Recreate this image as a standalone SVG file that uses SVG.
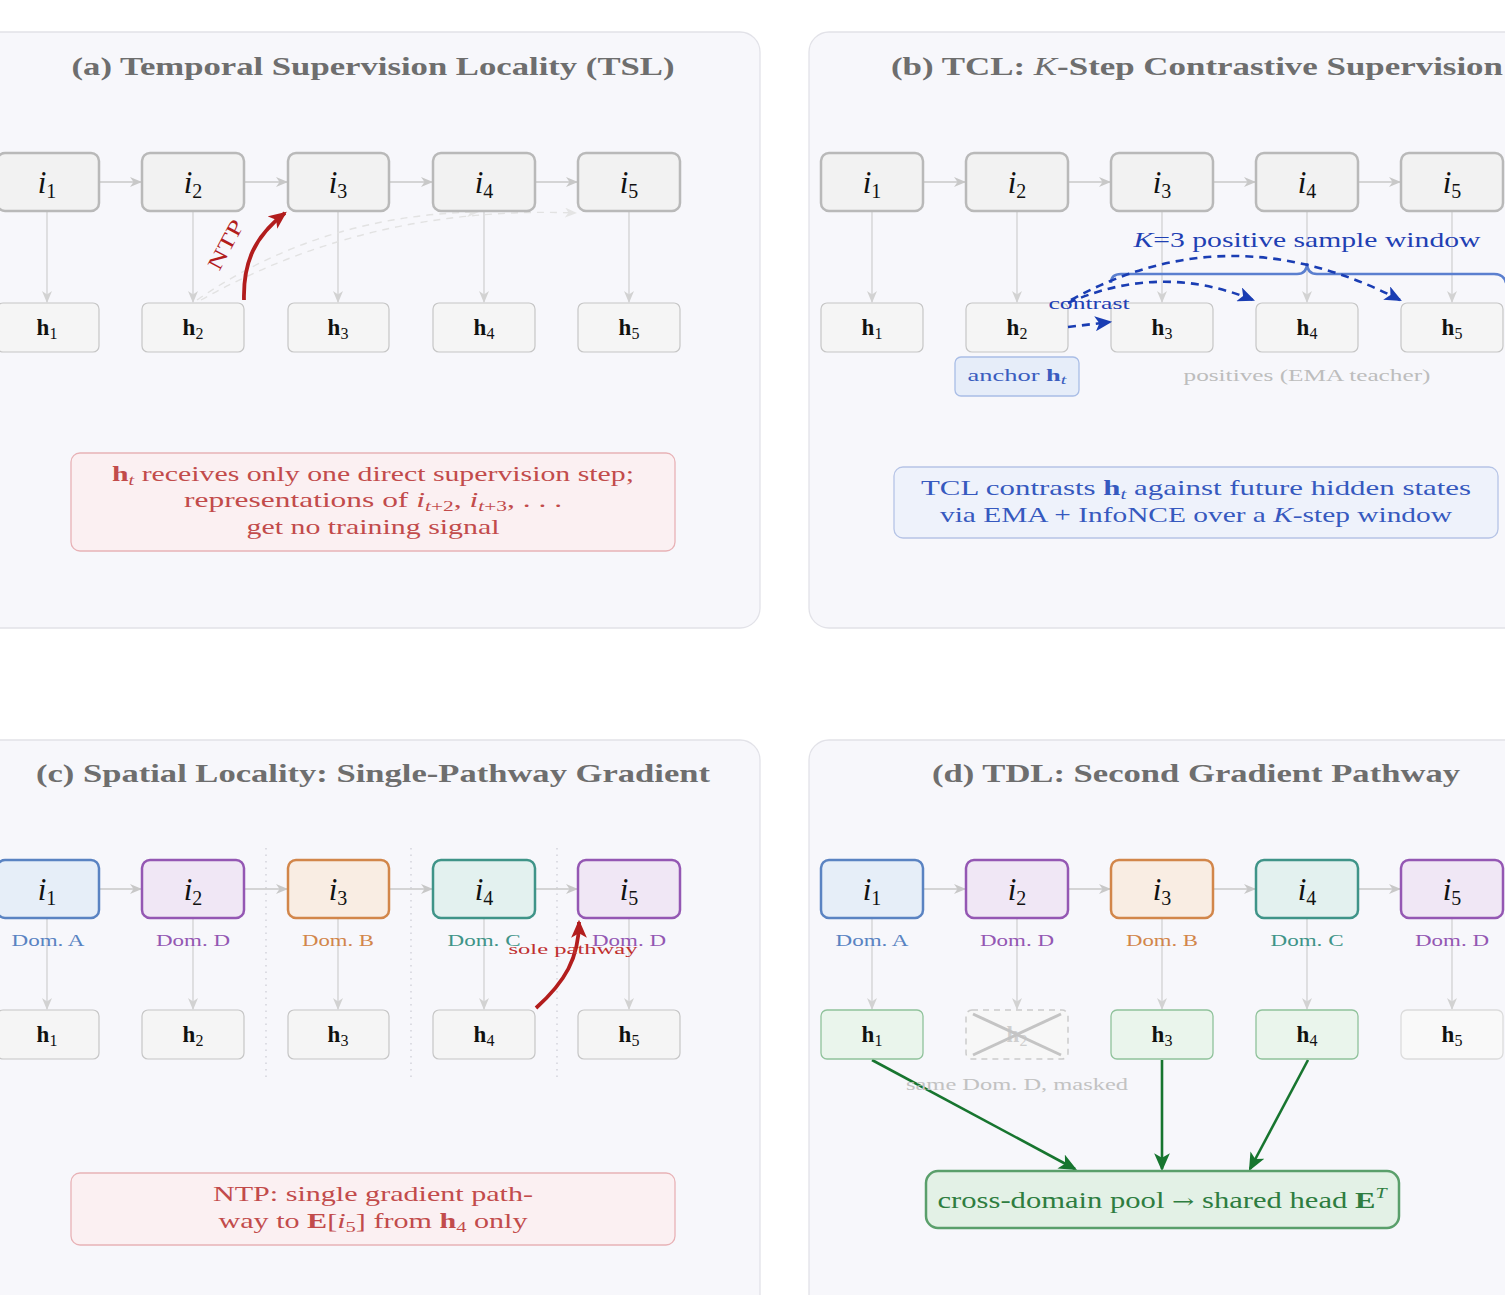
<svg xmlns="http://www.w3.org/2000/svg" width="1505" height="1295" viewBox="0 0 1505 1295">
<defs>
<style>
text{font-family:"Liberation Serif","DejaVu Serif",serif;}
.panel{fill:#f7f7fb;stroke:#e2e2e8;stroke-width:1.3;}
.title{font-size:26px;font-weight:bold;fill:#6e6e6e;text-anchor:middle;}
.inode{fill:#f2f2f2;stroke:#b9b9b9;stroke-width:2.5;}
.hnode{fill:#f5f5f5;stroke:#c6c6c6;stroke-width:1.2;}
.il{font-size:31px;text-anchor:middle;fill:#111;}
.hl{font-size:23px;text-anchor:middle;fill:#111;}
.harr{stroke:#c8c8c8;stroke-width:1.6;fill:none;}
.varr{stroke:#d2d2d2;stroke-width:1.3;fill:none;}
.dom{font-size:16px;text-anchor:middle;}
.sep{stroke:#cfcfd6;stroke-width:1.3;stroke-dasharray:1.5,5;}
.rednote{fill:#fbf0f2;stroke:#e8b2b6;stroke-width:1.3;}
.redtxt{font-size:22px;fill:#c24b4b;text-anchor:middle;}
.bluetxt{fill:#3659bf;text-anchor:middle;}
.blue{stroke:#1a3db3;stroke-width:2.6;fill:none;stroke-dasharray:8,6;}
.green{stroke:#17752f;stroke-width:2.6;fill:none;}
</style>
<marker id="ag" viewBox="0 0 12 10" refX="11" refY="5" markerWidth="12" markerHeight="10" markerUnits="userSpaceOnUse" orient="auto"><path d="M0,0 L12,5 L0,10 L3.5,5 z" fill="#c8c8c8"/></marker>
<marker id="agv" viewBox="0 0 12 10" refX="11" refY="5" markerWidth="12" markerHeight="10" markerUnits="userSpaceOnUse" orient="auto"><path d="M0,0 L12,5 L0,10 L3.5,5 z" fill="#d2d2d2"/></marker>
<marker id="agl" viewBox="0 0 12 10" refX="11" refY="5" markerWidth="12" markerHeight="10" markerUnits="userSpaceOnUse" orient="auto"><path d="M0,0 L12,5 L0,10 L3.5,5 z" fill="#e4e4e4"/></marker>
<marker id="ar" viewBox="0 0 16 14" refX="14" refY="7" markerWidth="18" markerHeight="16" markerUnits="userSpaceOnUse" orient="auto"><path d="M0,0 L16,7 L0,14 L4,7 z" fill="#b21d1d"/></marker>
<marker id="ab" viewBox="0 0 16 14" refX="14" refY="7" markerWidth="18" markerHeight="15" markerUnits="userSpaceOnUse" orient="auto"><path d="M0,0 L16,7 L0,14 L4,7 z" fill="#1a3db3"/></marker>
<marker id="agr" viewBox="0 0 16 14" refX="14" refY="7" markerWidth="18" markerHeight="16" markerUnits="userSpaceOnUse" orient="auto"><path d="M0,0 L16,7 L0,14 L4,7 z" fill="#17752f"/></marker>
</defs>
<rect width="1505" height="1295" fill="#ffffff"/>

<g id="panels">
<rect class="panel" x="-20" y="32" width="780" height="596" rx="20"/>
<rect class="panel" x="809" y="32" width="720" height="596" rx="20"/>
<rect class="panel" x="-20" y="740" width="780" height="600" rx="20"/>
<rect class="panel" x="809" y="740" width="720" height="600" rx="20"/>
</g>

<g id="titles">
<text class="title" x="373" y="75" textLength="603" lengthAdjust="spacingAndGlyphs">(a)  Temporal Supervision Locality (TSL)</text>
<text class="title" x="1197" y="75" textLength="612" lengthAdjust="spacingAndGlyphs">(b)  TCL: <tspan font-style="italic" font-weight="normal">K</tspan>-Step Contrastive Supervision</text>
<text class="title" x="373" y="782" textLength="674" lengthAdjust="spacingAndGlyphs">(c)  Spatial Locality: Single-Pathway Gradient</text>
<text class="title" x="1196" y="782" textLength="528" lengthAdjust="spacingAndGlyphs">(d)  TDL: Second Gradient Pathway</text>
</g>

<!-- ===== Panel (a) ===== -->
<g id="connectors-a">
<line class="harr" x1="99" y1="182" x2="141" y2="182" marker-end="url(#ag)"/>
<line class="harr" x1="244" y1="182" x2="287" y2="182" marker-end="url(#ag)"/>
<line class="harr" x1="389" y1="182" x2="432" y2="182" marker-end="url(#ag)"/>
<line class="harr" x1="535" y1="182" x2="577" y2="182" marker-end="url(#ag)"/>
<line class="varr" x1="47" y1="211" x2="47" y2="302" marker-end="url(#agv)"/>
<line class="varr" x1="193" y1="211" x2="193" y2="302" marker-end="url(#agv)"/>
<line class="varr" x1="338" y1="211" x2="338" y2="302" marker-end="url(#agv)"/>
<line class="varr" x1="484" y1="211" x2="484" y2="302" marker-end="url(#agv)"/>
<line class="varr" x1="629" y1="211" x2="629" y2="302" marker-end="url(#agv)"/>
<path d="M197,300 Q320,215 478,212" stroke="#e2e2e2" stroke-width="1.4" fill="none" stroke-dasharray="7,6" marker-end="url(#agl)"/>
<path d="M201,300 Q370,205 576,213" stroke="#e2e2e2" stroke-width="1.4" fill="none" stroke-dasharray="7,6" marker-end="url(#agl)"/>
<path d="M244,300 C243,262 255,236 285,213" stroke="#b21d1d" stroke-width="3.8" fill="none" marker-end="url(#ar)"/>
<text x="232" y="248" font-size="21" fill="#b21d1d" text-anchor="middle" transform="rotate(-62 232 248)" textLength="54" lengthAdjust="spacingAndGlyphs">NTP</text>
</g>
<g id="a-i1"><rect class="inode" x="-3" y="153" width="102" height="58" rx="8"/><text class="il" x="47" y="193"><tspan font-style="italic">i</tspan><tspan font-size="20" dy="5">1</tspan></text></g>
<g id="a-i2"><rect class="inode" x="142" y="153" width="102" height="58" rx="8"/><text class="il" x="193" y="193"><tspan font-style="italic">i</tspan><tspan font-size="20" dy="5">2</tspan></text></g>
<g id="a-i3"><rect class="inode" x="288" y="153" width="101" height="58" rx="8"/><text class="il" x="338" y="193"><tspan font-style="italic">i</tspan><tspan font-size="20" dy="5">3</tspan></text></g>
<g id="a-i4"><rect class="inode" x="433" y="153" width="102" height="58" rx="8"/><text class="il" x="484" y="193"><tspan font-style="italic">i</tspan><tspan font-size="20" dy="5">4</tspan></text></g>
<g id="a-i5"><rect class="inode" x="578" y="153" width="102" height="58" rx="8"/><text class="il" x="629" y="193"><tspan font-style="italic">i</tspan><tspan font-size="20" dy="5">5</tspan></text></g>
<g id="a-h1"><rect class="hnode" x="-3" y="303" width="102" height="49" rx="6"/><text class="hl" x="47" y="335"><tspan font-weight="bold">h</tspan><tspan font-size="16" dy="4">1</tspan></text></g>
<g id="a-h2"><rect class="hnode" x="142" y="303" width="102" height="49" rx="6"/><text class="hl" x="193" y="335"><tspan font-weight="bold">h</tspan><tspan font-size="16" dy="4">2</tspan></text></g>
<g id="a-h3"><rect class="hnode" x="288" y="303" width="101" height="49" rx="6"/><text class="hl" x="338" y="335"><tspan font-weight="bold">h</tspan><tspan font-size="16" dy="4">3</tspan></text></g>
<g id="a-h4"><rect class="hnode" x="433" y="303" width="102" height="49" rx="6"/><text class="hl" x="484" y="335"><tspan font-weight="bold">h</tspan><tspan font-size="16" dy="4">4</tspan></text></g>
<g id="a-h5"><rect class="hnode" x="578" y="303" width="102" height="49" rx="6"/><text class="hl" x="629" y="335"><tspan font-weight="bold">h</tspan><tspan font-size="16" dy="4">5</tspan></text></g>
<g id="a-note">
<rect class="rednote" x="71" y="453" width="604" height="98" rx="9"/>
<text class="redtxt" x="373" y="481" textLength="522" lengthAdjust="spacingAndGlyphs"><tspan font-weight="bold">h</tspan><tspan font-size="15" font-style="italic" dy="4">t</tspan><tspan dy="-4"> receives only one direct supervision step;</tspan></text>
<text class="redtxt" x="373" y="507" textLength="378" lengthAdjust="spacingAndGlyphs">representations of <tspan font-style="italic">i</tspan><tspan font-size="15" font-style="italic" dy="4">t</tspan><tspan font-size="15">+2</tspan><tspan dy="-4">, </tspan><tspan font-style="italic">i</tspan><tspan font-size="15" font-style="italic" dy="4">t</tspan><tspan font-size="15">+3</tspan><tspan dy="-4">, . . .</tspan></text>
<text class="redtxt" x="373" y="534" textLength="253" lengthAdjust="spacingAndGlyphs">get no training signal</text>
</g>

<!-- ===== Panel (b) ===== -->
<g id="connectors-b">
<line class="harr" x1="923" y1="182" x2="965" y2="182" marker-end="url(#ag)"/>
<line class="harr" x1="1068" y1="182" x2="1110" y2="182" marker-end="url(#ag)"/>
<line class="harr" x1="1213" y1="182" x2="1255" y2="182" marker-end="url(#ag)"/>
<line class="harr" x1="1358" y1="182" x2="1400" y2="182" marker-end="url(#ag)"/>
<line class="varr" x1="872" y1="211" x2="872" y2="302" marker-end="url(#agv)"/>
<line class="varr" x1="1017" y1="211" x2="1017" y2="302" marker-end="url(#agv)"/>
<line class="varr" x1="1162" y1="211" x2="1162" y2="302" marker-end="url(#agv)"/>
<line class="varr" x1="1307" y1="211" x2="1307" y2="302" marker-end="url(#agv)"/>
<line class="varr" x1="1452" y1="211" x2="1452" y2="302" marker-end="url(#agv)"/>
<path d="M1111,283 Q1111,274 1121,274 L1297,274 Q1307,274 1307,263 Q1307,274 1317,274 L1494,274 Q1504,274 1506,283" stroke="#5b7fcf" stroke-width="2.5" fill="none"/>
<text class="bluetxt" x="1307" y="247" font-size="22" style="fill:#1f40b3" textLength="347" lengthAdjust="spacingAndGlyphs"><tspan font-style="italic">K</tspan>=3 positive sample window</text>
</g>
<g id="b-i1"><rect class="inode" x="821" y="153" width="102" height="58" rx="8"/><text class="il" x="872" y="193"><tspan font-style="italic">i</tspan><tspan font-size="20" dy="5">1</tspan></text></g>
<g id="b-i2"><rect class="inode" x="966" y="153" width="102" height="58" rx="8"/><text class="il" x="1017" y="193"><tspan font-style="italic">i</tspan><tspan font-size="20" dy="5">2</tspan></text></g>
<g id="b-i3"><rect class="inode" x="1111" y="153" width="102" height="58" rx="8"/><text class="il" x="1162" y="193"><tspan font-style="italic">i</tspan><tspan font-size="20" dy="5">3</tspan></text></g>
<g id="b-i4"><rect class="inode" x="1256" y="153" width="102" height="58" rx="8"/><text class="il" x="1307" y="193"><tspan font-style="italic">i</tspan><tspan font-size="20" dy="5">4</tspan></text></g>
<g id="b-i5"><rect class="inode" x="1401" y="153" width="102" height="58" rx="8"/><text class="il" x="1452" y="193"><tspan font-style="italic">i</tspan><tspan font-size="20" dy="5">5</tspan></text></g>
<g id="b-h1"><rect class="hnode" x="821" y="303" width="102" height="49" rx="6"/><text class="hl" x="872" y="335"><tspan font-weight="bold">h</tspan><tspan font-size="16" dy="4">1</tspan></text></g>
<g id="b-h2"><rect class="hnode" x="966" y="303" width="102" height="49" rx="6"/><text class="hl" x="1017" y="335"><tspan font-weight="bold">h</tspan><tspan font-size="16" dy="4">2</tspan></text></g>
<g id="b-h3"><rect class="hnode" x="1111" y="303" width="102" height="49" rx="6"/><text class="hl" x="1162" y="335"><tspan font-weight="bold">h</tspan><tspan font-size="16" dy="4">3</tspan></text></g>
<g id="b-h4"><rect class="hnode" x="1256" y="303" width="102" height="49" rx="6"/><text class="hl" x="1307" y="335"><tspan font-weight="bold">h</tspan><tspan font-size="16" dy="4">4</tspan></text></g>
<g id="b-h5"><rect class="hnode" x="1401" y="303" width="102" height="49" rx="6"/><text class="hl" x="1452" y="335"><tspan font-weight="bold">h</tspan><tspan font-size="16" dy="4">5</tspan></text></g>
<g id="contrast-arrows-b">
<path class="blue" d="M1068,303 Q1160,262 1253,300" marker-end="url(#ab)"/>
<path class="blue" d="M1071,300 Q1230,212 1400,300" marker-end="url(#ab)"/>
<path class="blue" d="M1068,327 L1110,322" marker-end="url(#ab)"/>
<text class="bluetxt" x="1089" y="309" font-size="16" style="fill:#1f40b3" textLength="81" lengthAdjust="spacingAndGlyphs">contrast</text>
</g>
<g id="b-anchor"><rect x="955" y="357" width="124" height="39" rx="6" fill="#e6edf9" stroke="#a9bde6" stroke-width="1.3"/><text class="bluetxt" x="1017" y="381" font-size="17" style="fill:#3a5dbf" textLength="99" lengthAdjust="spacingAndGlyphs">anchor <tspan font-weight="bold">h</tspan><tspan font-size="13" font-style="italic" dy="3">t</tspan></text></g>
<text x="1307" y="381" font-size="16" fill="#bdbdbd" text-anchor="middle" textLength="247" lengthAdjust="spacingAndGlyphs">positives (EMA teacher)</text>
<g id="b-note">
<rect x="894" y="467" width="604" height="71" rx="9" fill="#eef2fb" stroke="#b6c4e6" stroke-width="1.3"/>
<text class="bluetxt" x="1196" y="495" font-size="22" textLength="550" lengthAdjust="spacingAndGlyphs">TCL contrasts <tspan font-weight="bold">h</tspan><tspan font-size="15" font-style="italic" dy="4">t</tspan><tspan dy="-4"> against future hidden states</tspan></text>
<text class="bluetxt" x="1196" y="522" font-size="22" textLength="512" lengthAdjust="spacingAndGlyphs">via EMA + InfoNCE over a <tspan font-style="italic">K</tspan>-step window</text>
</g>

<!-- ===== Panel (c) ===== -->
<g id="connectors-c">
<line class="sep" x1="266" y1="848" x2="266" y2="1078"/>
<line class="sep" x1="411" y1="848" x2="411" y2="1078"/>
<line class="sep" x1="557" y1="848" x2="557" y2="1078"/>
<line class="harr" x1="99" y1="889" x2="141" y2="889" marker-end="url(#ag)"/>
<line class="harr" x1="244" y1="889" x2="287" y2="889" marker-end="url(#ag)"/>
<line class="harr" x1="389" y1="889" x2="432" y2="889" marker-end="url(#ag)"/>
<line class="harr" x1="535" y1="889" x2="577" y2="889" marker-end="url(#ag)"/>
<line class="varr" x1="47" y1="918" x2="47" y2="1009" marker-end="url(#agv)"/>
<line class="varr" x1="193" y1="918" x2="193" y2="1009" marker-end="url(#agv)"/>
<line class="varr" x1="338" y1="918" x2="338" y2="1009" marker-end="url(#agv)"/>
<line class="varr" x1="484" y1="918" x2="484" y2="1009" marker-end="url(#agv)"/>
<line class="varr" x1="629" y1="918" x2="629" y2="1009" marker-end="url(#agv)"/>
</g>
<g id="c-i1"><rect x="-3" y="860" width="102" height="58" rx="8" fill="#e6eef8" stroke="#5a83c2" stroke-width="2.5"/><text class="il" x="47" y="900"><tspan font-style="italic">i</tspan><tspan font-size="20" dy="5">1</tspan></text><text class="dom" x="48" y="946" fill="#5a83c2" textLength="73" lengthAdjust="spacingAndGlyphs">Dom. A</text></g>
<g id="c-i2"><rect x="142" y="860" width="102" height="58" rx="8" fill="#f0e7f5" stroke="#9457b3" stroke-width="2.5"/><text class="il" x="193" y="900"><tspan font-style="italic">i</tspan><tspan font-size="20" dy="5">2</tspan></text><text class="dom" x="193" y="946" fill="#9457b3" textLength="74" lengthAdjust="spacingAndGlyphs">Dom. D</text></g>
<g id="c-i3"><rect x="288" y="860" width="101" height="58" rx="8" fill="#f9ede3" stroke="#d2864a" stroke-width="2.5"/><text class="il" x="338" y="900"><tspan font-style="italic">i</tspan><tspan font-size="20" dy="5">3</tspan></text><text class="dom" x="338" y="946" fill="#d2864a" textLength="72" lengthAdjust="spacingAndGlyphs">Dom. B</text></g>
<g id="c-i4"><rect x="433" y="860" width="102" height="58" rx="8" fill="#e3f1ef" stroke="#3f9488" stroke-width="2.5"/><text class="il" x="484" y="900"><tspan font-style="italic">i</tspan><tspan font-size="20" dy="5">4</tspan></text><text class="dom" x="484" y="946" fill="#3f9488" textLength="73" lengthAdjust="spacingAndGlyphs">Dom. C</text></g>
<g id="c-i5"><rect x="578" y="860" width="102" height="58" rx="8" fill="#f0e7f5" stroke="#9457b3" stroke-width="2.5"/><text class="il" x="629" y="900"><tspan font-style="italic">i</tspan><tspan font-size="20" dy="5">5</tspan></text><text class="dom" x="629" y="946" fill="#9457b3" textLength="74" lengthAdjust="spacingAndGlyphs">Dom. D</text></g>
<g id="c-h1"><rect class="hnode" x="-3" y="1010" width="102" height="49" rx="6"/><text class="hl" x="47" y="1042"><tspan font-weight="bold">h</tspan><tspan font-size="16" dy="4">1</tspan></text></g>
<g id="c-h2"><rect class="hnode" x="142" y="1010" width="102" height="49" rx="6"/><text class="hl" x="193" y="1042"><tspan font-weight="bold">h</tspan><tspan font-size="16" dy="4">2</tspan></text></g>
<g id="c-h3"><rect class="hnode" x="288" y="1010" width="101" height="49" rx="6"/><text class="hl" x="338" y="1042"><tspan font-weight="bold">h</tspan><tspan font-size="16" dy="4">3</tspan></text></g>
<g id="c-h4"><rect class="hnode" x="433" y="1010" width="102" height="49" rx="6"/><text class="hl" x="484" y="1042"><tspan font-weight="bold">h</tspan><tspan font-size="16" dy="4">4</tspan></text></g>
<g id="c-h5"><rect class="hnode" x="578" y="1010" width="102" height="49" rx="6"/><text class="hl" x="629" y="1042"><tspan font-weight="bold">h</tspan><tspan font-size="16" dy="4">5</tspan></text></g>
<g id="c-sole">
<path d="M536,1008 C565,982 579,958 579,922" stroke="#b21d1d" stroke-width="3.8" fill="none" marker-end="url(#ar)"/>
<text x="573" y="954" font-size="15" fill="#c0302f" text-anchor="middle" textLength="129" lengthAdjust="spacingAndGlyphs">sole pathway</text>
</g>
<g id="c-note">
<rect class="rednote" x="71" y="1173" width="604" height="72" rx="9"/>
<text class="redtxt" x="373" y="1201" textLength="320" lengthAdjust="spacingAndGlyphs">NTP: single gradient path-</text>
<text class="redtxt" x="373" y="1228" textLength="309" lengthAdjust="spacingAndGlyphs">way to <tspan font-weight="bold">E</tspan>[<tspan font-style="italic">i</tspan><tspan font-size="15" dy="4">5</tspan><tspan dy="-4">] from </tspan><tspan font-weight="bold">h</tspan><tspan font-size="15" dy="4">4</tspan><tspan dy="-4"> only</tspan></text>
</g>

<!-- ===== Panel (d) ===== -->
<g id="connectors-d">
<line class="harr" x1="923" y1="889" x2="965" y2="889" marker-end="url(#ag)"/>
<line class="harr" x1="1068" y1="889" x2="1110" y2="889" marker-end="url(#ag)"/>
<line class="harr" x1="1213" y1="889" x2="1255" y2="889" marker-end="url(#ag)"/>
<line class="harr" x1="1358" y1="889" x2="1400" y2="889" marker-end="url(#ag)"/>
<line class="varr" x1="872" y1="918" x2="872" y2="1009" marker-end="url(#agv)"/>
<line class="varr" x1="1017" y1="918" x2="1017" y2="1009" marker-end="url(#agv)"/>
<line class="varr" x1="1162" y1="918" x2="1162" y2="1009" marker-end="url(#agv)"/>
<line class="varr" x1="1307" y1="918" x2="1307" y2="1009" marker-end="url(#agv)"/>
<line class="varr" x1="1452" y1="918" x2="1452" y2="1009" marker-end="url(#agv)"/>
<line class="green" x1="872" y1="1060" x2="1075" y2="1169" marker-end="url(#agr)"/>
<line class="green" x1="1162" y1="1060" x2="1162" y2="1169" marker-end="url(#agr)"/>
<line class="green" x1="1308" y1="1060" x2="1250" y2="1169" marker-end="url(#agr)"/>
</g>
<g id="d-i1"><rect x="821" y="860" width="102" height="58" rx="8" fill="#e6eef8" stroke="#5a83c2" stroke-width="2.5"/><text class="il" x="872" y="900"><tspan font-style="italic">i</tspan><tspan font-size="20" dy="5">1</tspan></text><text class="dom" x="872" y="946" fill="#5a83c2" textLength="73" lengthAdjust="spacingAndGlyphs">Dom. A</text></g>
<g id="d-i2"><rect x="966" y="860" width="102" height="58" rx="8" fill="#f0e7f5" stroke="#9457b3" stroke-width="2.5"/><text class="il" x="1017" y="900"><tspan font-style="italic">i</tspan><tspan font-size="20" dy="5">2</tspan></text><text class="dom" x="1017" y="946" fill="#9457b3" textLength="74" lengthAdjust="spacingAndGlyphs">Dom. D</text></g>
<g id="d-i3"><rect x="1111" y="860" width="102" height="58" rx="8" fill="#f9ede3" stroke="#d2864a" stroke-width="2.5"/><text class="il" x="1162" y="900"><tspan font-style="italic">i</tspan><tspan font-size="20" dy="5">3</tspan></text><text class="dom" x="1162" y="946" fill="#d2864a" textLength="72" lengthAdjust="spacingAndGlyphs">Dom. B</text></g>
<g id="d-i4"><rect x="1256" y="860" width="102" height="58" rx="8" fill="#e3f1ef" stroke="#3f9488" stroke-width="2.5"/><text class="il" x="1307" y="900"><tspan font-style="italic">i</tspan><tspan font-size="20" dy="5">4</tspan></text><text class="dom" x="1307" y="946" fill="#3f9488" textLength="73" lengthAdjust="spacingAndGlyphs">Dom. C</text></g>
<g id="d-i5"><rect x="1401" y="860" width="102" height="58" rx="8" fill="#f0e7f5" stroke="#9457b3" stroke-width="2.5"/><text class="il" x="1452" y="900"><tspan font-style="italic">i</tspan><tspan font-size="20" dy="5">5</tspan></text><text class="dom" x="1452" y="946" fill="#9457b3" textLength="74" lengthAdjust="spacingAndGlyphs">Dom. D</text></g>
<g id="d-h1"><rect x="821" y="1010" width="102" height="49" rx="6" fill="#eaf5ec" stroke="#90c29b" stroke-width="1.3"/><text class="hl" x="872" y="1042"><tspan font-weight="bold">h</tspan><tspan font-size="16" dy="4">1</tspan></text></g>
<g id="d-h2"><rect x="966" y="1010" width="102" height="49" rx="6" fill="#f7f7f7" stroke="#cccccc" stroke-width="1.5" stroke-dasharray="6,5"/><text class="hl" x="1017" y="1042" style="fill:#cfcfcf"><tspan font-weight="bold">h</tspan><tspan font-size="16" dy="4">2</tspan></text><line x1="973" y1="1014" x2="1061" y2="1055" stroke="#c4c4c4" stroke-width="3"/><line x1="973" y1="1055" x2="1061" y2="1014" stroke="#c4c4c4" stroke-width="3"/></g>
<g id="d-h3"><rect x="1111" y="1010" width="102" height="49" rx="6" fill="#eaf5ec" stroke="#90c29b" stroke-width="1.3"/><text class="hl" x="1162" y="1042"><tspan font-weight="bold">h</tspan><tspan font-size="16" dy="4">3</tspan></text></g>
<g id="d-h4"><rect x="1256" y="1010" width="102" height="49" rx="6" fill="#eaf5ec" stroke="#90c29b" stroke-width="1.3"/><text class="hl" x="1307" y="1042"><tspan font-weight="bold">h</tspan><tspan font-size="16" dy="4">4</tspan></text></g>
<g id="d-h5"><rect x="1401" y="1010" width="102" height="49" rx="6" fill="#f9f9f9" stroke="#dcdcdc" stroke-width="1.3"/><text class="hl" x="1452" y="1042"><tspan font-weight="bold">h</tspan><tspan font-size="16" dy="4">5</tspan></text></g>
<text x="1017" y="1090" font-size="16" fill="#c2c2c2" text-anchor="middle" textLength="222" lengthAdjust="spacingAndGlyphs">same Dom. D, masked</text>
<g id="d-pool">
<rect x="926" y="1171" width="473" height="57" rx="12" fill="#e3f1e6" stroke="#5a9f6b" stroke-width="2.5"/>
<text x="1162" y="1208" font-size="23" fill="#2e7d40" text-anchor="middle" textLength="449" lengthAdjust="spacingAndGlyphs">cross-domain pool <tspan font-family="DejaVu Serif" font-size="20">→</tspan> shared head <tspan font-weight="bold">E</tspan><tspan font-size="15" font-style="italic" dy="-10">T</tspan></text>
</g>
</svg>
